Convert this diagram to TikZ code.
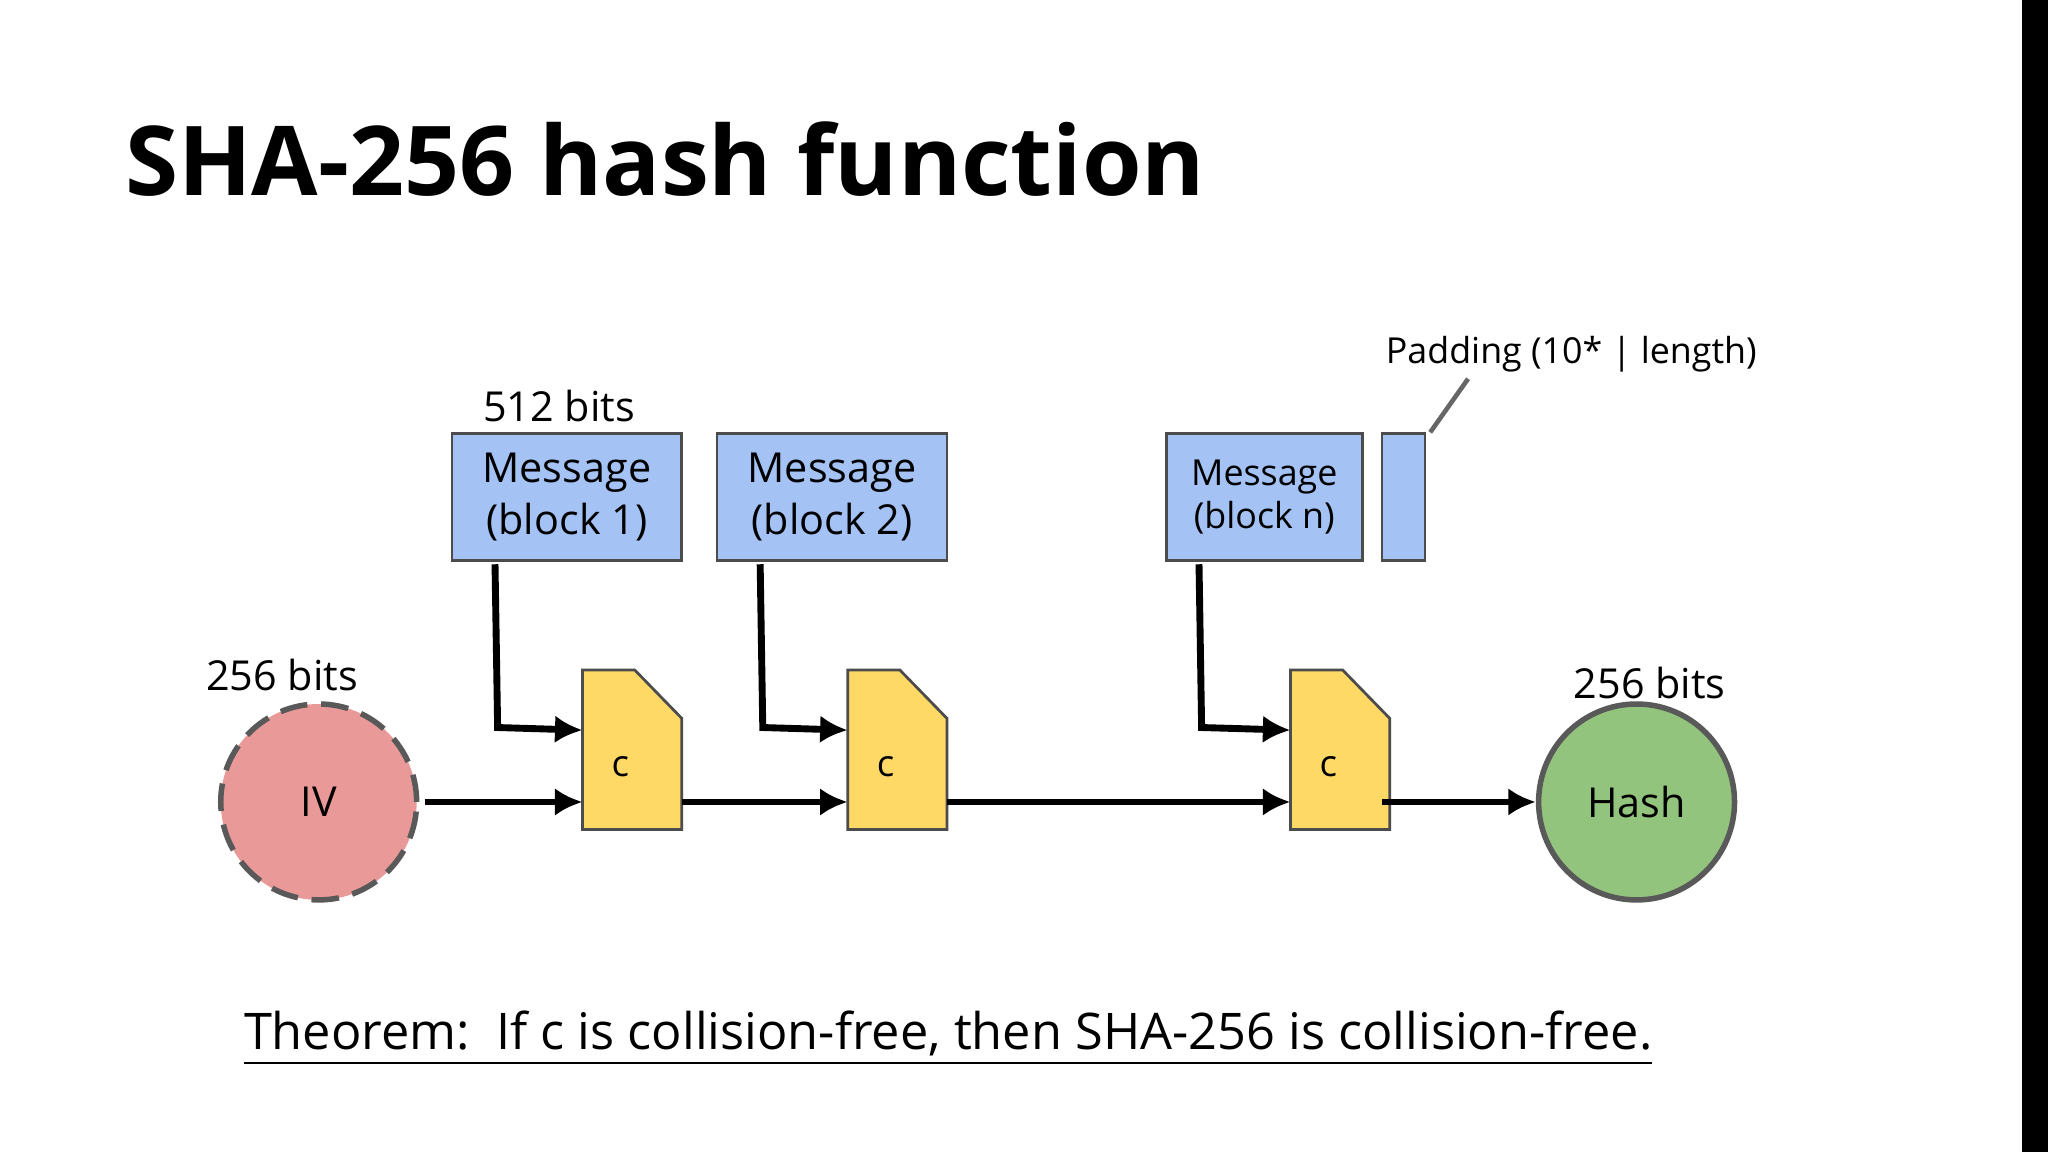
\documentclass[tikz,border=0pt]{standalone}
\usepackage{fontspec}
\setmainfont{Open Sans}
\usetikzlibrary{arrows.meta}
\begin{document}
\begin{tikzpicture}[x=0.1mm,y=-0.1mm,
  msg/.style={draw=black!70,fill={rgb,255:red,164;green,194;blue,244},line width=0.6pt,inner sep=0pt,align=center},
  comp/.style={draw=black!70,fill={rgb,255:red,255;green,217;blue,102},line width=0.6pt},
  arr/.style={line width=1.5pt,-{Latex[length=6pt,width=6pt]}},
  lbl/.style={font=\fontsize{9pt}{11pt}\selectfont,inner sep=0pt}]
\useasboundingbox (0,0) rectangle (1568,882);
\fill[white] (0,0) rectangle (1568,882);
\fill[black] (1548,0) rectangle (1568,882);
\node[anchor=base west,inner sep=0pt,font=\fontsize{21pt}{25pt}\selectfont\bfseries] (title) at (95,150) {SHA-256 hash function};
% message blocks
\node[msg,minimum width=17.6mm,minimum height=9.7mm,font=\fontsize{9pt}{11.5pt}\selectfont] (m1) at (434,380.5) {Message\\(block 1)};
\node[msg,minimum width=17.6mm,minimum height=9.7mm,font=\fontsize{9pt}{11.5pt}\selectfont] (m2) at (637,380.5) {Message\\(block 2)};
\node[msg,minimum width=15mm,minimum height=9.7mm,font=\fontsize{7.8pt}{9.5pt}\selectfont] (mn) at (968,380.5) {Message\\(block n)};
\node[msg,minimum width=3.3mm,minimum height=9.7mm] (pad) at (1074.5,380.5) {};
\node[lbl] (l512) at (428,311) {512 bits};
\node[font=\fontsize{7.8pt}{9pt}\selectfont,inner sep=0pt] (lpad) at (1203,271) {Padding (10* | length)};
\coordinate (pt) at (1124,290);
\draw[black!60,line width=1pt] (1095,331) -- (pt);
% compression functions
\foreach \n/\x in {c1/446,c2/649,c3/988}{
  \draw[comp] (\x,513) -- (\x+40,513) -- (\x+76,550) -- (\x+76,635) -- (\x,635) -- cycle;
  \node[font=\fontsize{8pt}{10pt}\selectfont,inner sep=0pt] (\n) at (\x+29,587) {c};
}
\coordinate (c1w) at (446,614); \coordinate (c1u) at (446,559); \coordinate (c1e) at (522,614);
\coordinate (c2w) at (649,614); \coordinate (c2u) at (649,559); \coordinate (c2e) at (725,614);
\coordinate (c3w) at (988,614); \coordinate (c3u) at (988,559); \coordinate (c3e) at (1058,614);
% circles
\node[circle,draw=black!65,dash pattern=on 6pt off 3pt,line width=1.2pt,fill={rgb,255:red,234;green,153;blue,153},minimum size=15mm,inner sep=0pt,font=\fontsize{9pt}{11pt}\selectfont] (iv) at (244,614) {IV};
\node[circle,draw=black!65,line width=1.2pt,fill={rgb,255:red,147;green,196;blue,125},minimum size=15mm,inner sep=0pt,font=\fontsize{9pt}{11pt}\selectfont] (hash) at (1253,614) {Hash};
\node[lbl] (l256a) at (216,517) {256 bits};
\node[lbl] (l256b) at (1263,523) {256 bits};
% arrows
\draw[arr] ([xshift=0.4mm]iv.east) -- (c1w);
\draw[arr] (c1e) -- (c2w);
\draw[arr] (c2e) -- (c3w);
\draw[arr] (c3e) -- (hash.west);
\draw[arr] (379,432) -- (381,557) -- (c1u);
\draw[arr] (582,432) -- (584,557) -- (c2u);
\draw[arr] (918,432) -- (920,557) -- (c3u);
% theorem
\node[font=\fontsize{11pt}{13pt}\selectfont,inner sep=0pt] (thm) at (726,795) {\underline{Theorem:\ \ If c is collision-free, then SHA-256 is collision-free.}};
\end{tikzpicture}
\end{document}
